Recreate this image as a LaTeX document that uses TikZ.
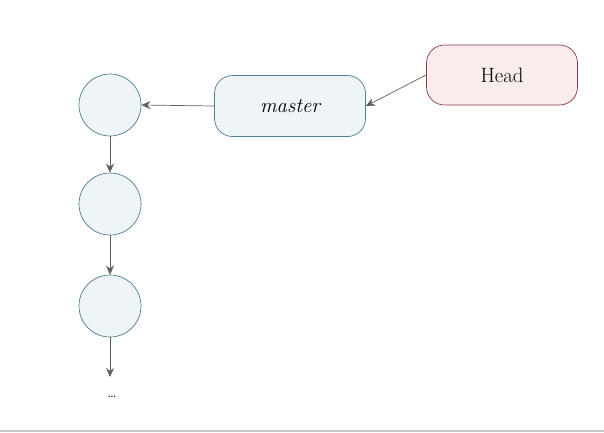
\documentclass[tikz,border=0pt]{standalone}
\usetikzlibrary{arrows.meta}
\definecolor{nodeblue}{HTML}{EEF4F8}
\definecolor{edgeblue}{HTML}{4E7F8C}
\definecolor{headred}{HTML}{F8ECEC}
\definecolor{edgered}{HTML}{8E3B42}
\definecolor{arrowgray}{HTML}{606060}
\tikzset{
	commit/.style={circle,draw=edgeblue,fill=nodeblue,line width=0.7pt,minimum size=62pt,inner sep=0pt},
	branch/.style={rounded corners=18pt,draw=edgeblue,fill=nodeblue,line width=0.7pt,minimum width=151pt,minimum height=61pt,font=\huge\itshape},
	headbox/.style={rounded corners=18pt,draw=edgered,fill=headred,line width=0.7pt,minimum width=151pt,minimum height=60pt,font=\huge},
	link/.style={draw=arrowgray,line width=0.7pt,-{Stealth[length=9pt,width=8pt]}}
}
\begin{document}
\begin{tikzpicture}[x=1pt,y=-1pt]
	\useasboundingbox (0,0) rectangle (604,432);
	\node[commit] (c1) at (110,105) {};
	\node[commit] (c2) at (110,204) {};
	\node[commit] (c3) at (110,306) {};
	\node[branch] (master) at (290,106) {master};
	\node[headbox] (head) at (502,75) {Head};
	\node[font=\Large] (dots) at (112,397) {\ldots};
	\coordinate (tail) at (110,377);
	\draw[link] (head.west) -- (master.east);
	\draw[link] (master.west) -- (c1.east);
	\draw[link] (c1) -- (c2);
	\draw[link] (c2) -- (c3);
	\draw[link] (c3) -- (tail);
	\draw[black!20,line width=1.5pt] (0,431) -- (604,431);
\end{tikzpicture}
\end{document}
